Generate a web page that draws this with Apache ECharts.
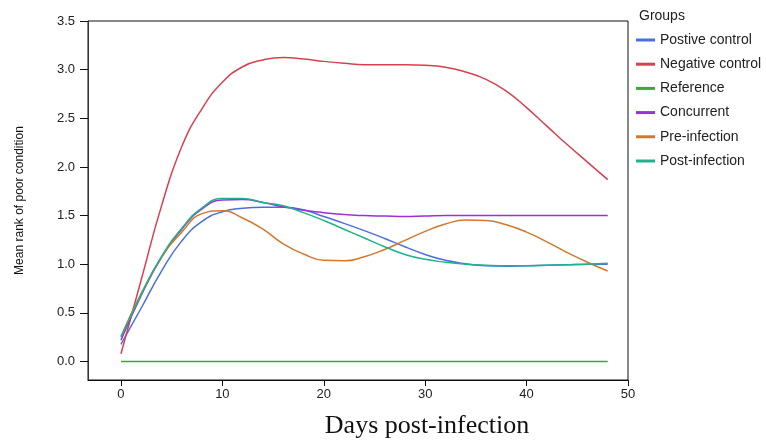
<!DOCTYPE html>
<html>
<head>
<meta charset="utf-8">
<script src="https://cdn.jsdelivr.net/npm/echarts@6/dist/echarts.min.js"></script>
<style>
  html, body { margin: 0; padding: 0; background: #fff; }
  #chart { width: 766px; height: 442px; }
</style>
</head>
<body>
<div id="chart"></div>
<script>
// Sampling days (every second day of follow-up)
const days = [0, 2, 4, 6, 8, 10, 12, 14, 16, 18, 20, 22, 24, 26, 28, 30, 32, 34, 36, 38, 40, 42, 44, 46, 48];

// Smoothed mean rank of poor condition per group
const positiveControl = [0.175, 0.55, 0.93, 1.24, 1.44, 1.54, 1.575, 1.585, 1.585, 1.56, 1.49, 1.42, 1.345, 1.265, 1.18, 1.10, 1.04, 1.005, 0.985, 0.98, 0.985, 0.99, 0.995, 1.0, 1.0];
const negativeControl = [0.08, 0.84, 1.60, 2.21, 2.60, 2.87, 3.03, 3.10, 3.125, 3.11, 3.085, 3.065, 3.05, 3.05, 3.05, 3.045, 3.025, 2.975, 2.90, 2.78, 2.61, 2.42, 2.23, 2.05, 1.87];
const reference       = [0, 0, 0, 0, 0, 0, 0, 0, 0, 0, 0, 0, 0, 0, 0, 0, 0, 0, 0, 0, 0, 0, 0, 0, 0];
const concurrent      = [0.22, 0.68, 1.07, 1.36, 1.57, 1.66, 1.665, 1.635, 1.59, 1.555, 1.53, 1.51, 1.50, 1.495, 1.49, 1.495, 1.50, 1.50, 1.50, 1.50, 1.50, 1.50, 1.50, 1.50, 1.50];
const preInfection    = [0.26, 0.70, 1.07, 1.33, 1.52, 1.55, 1.475, 1.36, 1.21, 1.105, 1.04, 1.035, 1.077, 1.152, 1.245, 1.338, 1.413, 1.455, 1.45, 1.405, 1.33, 1.23, 1.12, 1.02, 0.93];
const postInfection   = [0.25, 0.69, 1.08, 1.37, 1.58, 1.675, 1.675, 1.635, 1.60, 1.53, 1.45, 1.36, 1.27, 1.18, 1.10, 1.05, 1.02, 1.00, 0.99, 0.985, 0.985, 0.99, 0.995, 1.0, 1.01];

const groupNames = ['Postive control', 'Negative control', 'Reference', 'Concurrent', 'Pre-infection', 'Post-infection'];
const groupValues = [positiveControl, negativeControl, reference, concurrent, preInfection, postInfection];
const groupColors = ['#4a70e0', '#d8404f', '#3aa83a', '#9a30d6', '#d4782c', '#1fb38c'];

// Tick labels
const xTicks = [0, 10, 20, 30, 40, 50];
const yTicks = [0, 0.5, 1.0, 1.5, 2.0, 2.5, 3.0, 3.5];

const chart = echarts.init(document.getElementById('chart'), null, { renderer: 'canvas' });

const series = groupNames.map((name, i) => ({
  name: name,
  type: 'line',
  smooth: 0.5,
  showSymbol: false,
  symbol: 'none',
  data: days.map((d, k) => [d, groupValues[i][k]]),
  lineStyle: { color: groupColors[i], width: 1.5 },
  itemStyle: { color: groupColors[i] },
  z: i === 5 ? 4 : 3
}));

chart.setOption({
  animation: false,
  backgroundColor: '#ffffff',
  title: {
    text: 'Groups',
    left: 634,
    top: 4,
    textStyle: { fontFamily: 'Liberation Sans', fontSize: 14, fontWeight: 'normal', color: '#222' }
  },
  legend: {
    orient: 'vertical',
    left: 631,
    top: 28,
    itemWidth: 19,
    itemHeight: 3,
    itemGap: 10.2,
    icon: 'rect',
    data: groupNames,
    textStyle: { fontFamily: 'Liberation Sans', fontSize: 14, color: '#222', lineHeight: 14 }
  },
  grid: {
    left: 88,
    top: 21,
    right: 138,
    bottom: 62,
    show: true,
    borderColor: '#111',
    borderWidth: 1,
    containLabel: false,
    outerBoundsMode: 'none'
  },
  xAxis: {
    type: 'value',
    min: -3.25,
    max: 50,
    name: 'Days post-infection',
    nameLocation: 'middle',
    nameGap: 33,
    nameTextStyle: {
      fontFamily: 'Liberation Serif',
      fontSize: 26,
      color: '#111',
      padding: [0, 0, 0, 138]
    },
    axisLine: { onZero: false, lineStyle: { color: '#111', width: 1 } },
    axisTick: { show: true, length: 6, customValues: xTicks, lineStyle: { color: '#111' } },
    axisLabel: {
      customValues: xTicks,
      margin: 8,
      fontFamily: 'Liberation Sans',
      fontSize: 13,
      color: '#222'
    },
    splitLine: { show: false }
  },
  yAxis: {
    type: 'value',
    min: -0.19,
    max: 3.5,
    name: 'Mean rank of poor condition',
    nameLocation: 'middle',
    nameRotate: 90,
    nameGap: 62,
    nameTextStyle: { fontFamily: 'Liberation Sans', fontSize: 12, color: '#111' },
    axisLine: { onZero: false, lineStyle: { color: '#333', width: 1 } },
    axisTick: { show: true, length: 8, customValues: yTicks, lineStyle: { color: '#111' } },
    axisLabel: {
      customValues: yTicks,
      margin: 13,
      formatter: v => Number(v).toFixed(1),
      fontFamily: 'Liberation Sans',
      fontSize: 13,
      color: '#222'
    },
    splitLine: { show: false }
  },
  series: series
});
</script>
</body>
</html>
